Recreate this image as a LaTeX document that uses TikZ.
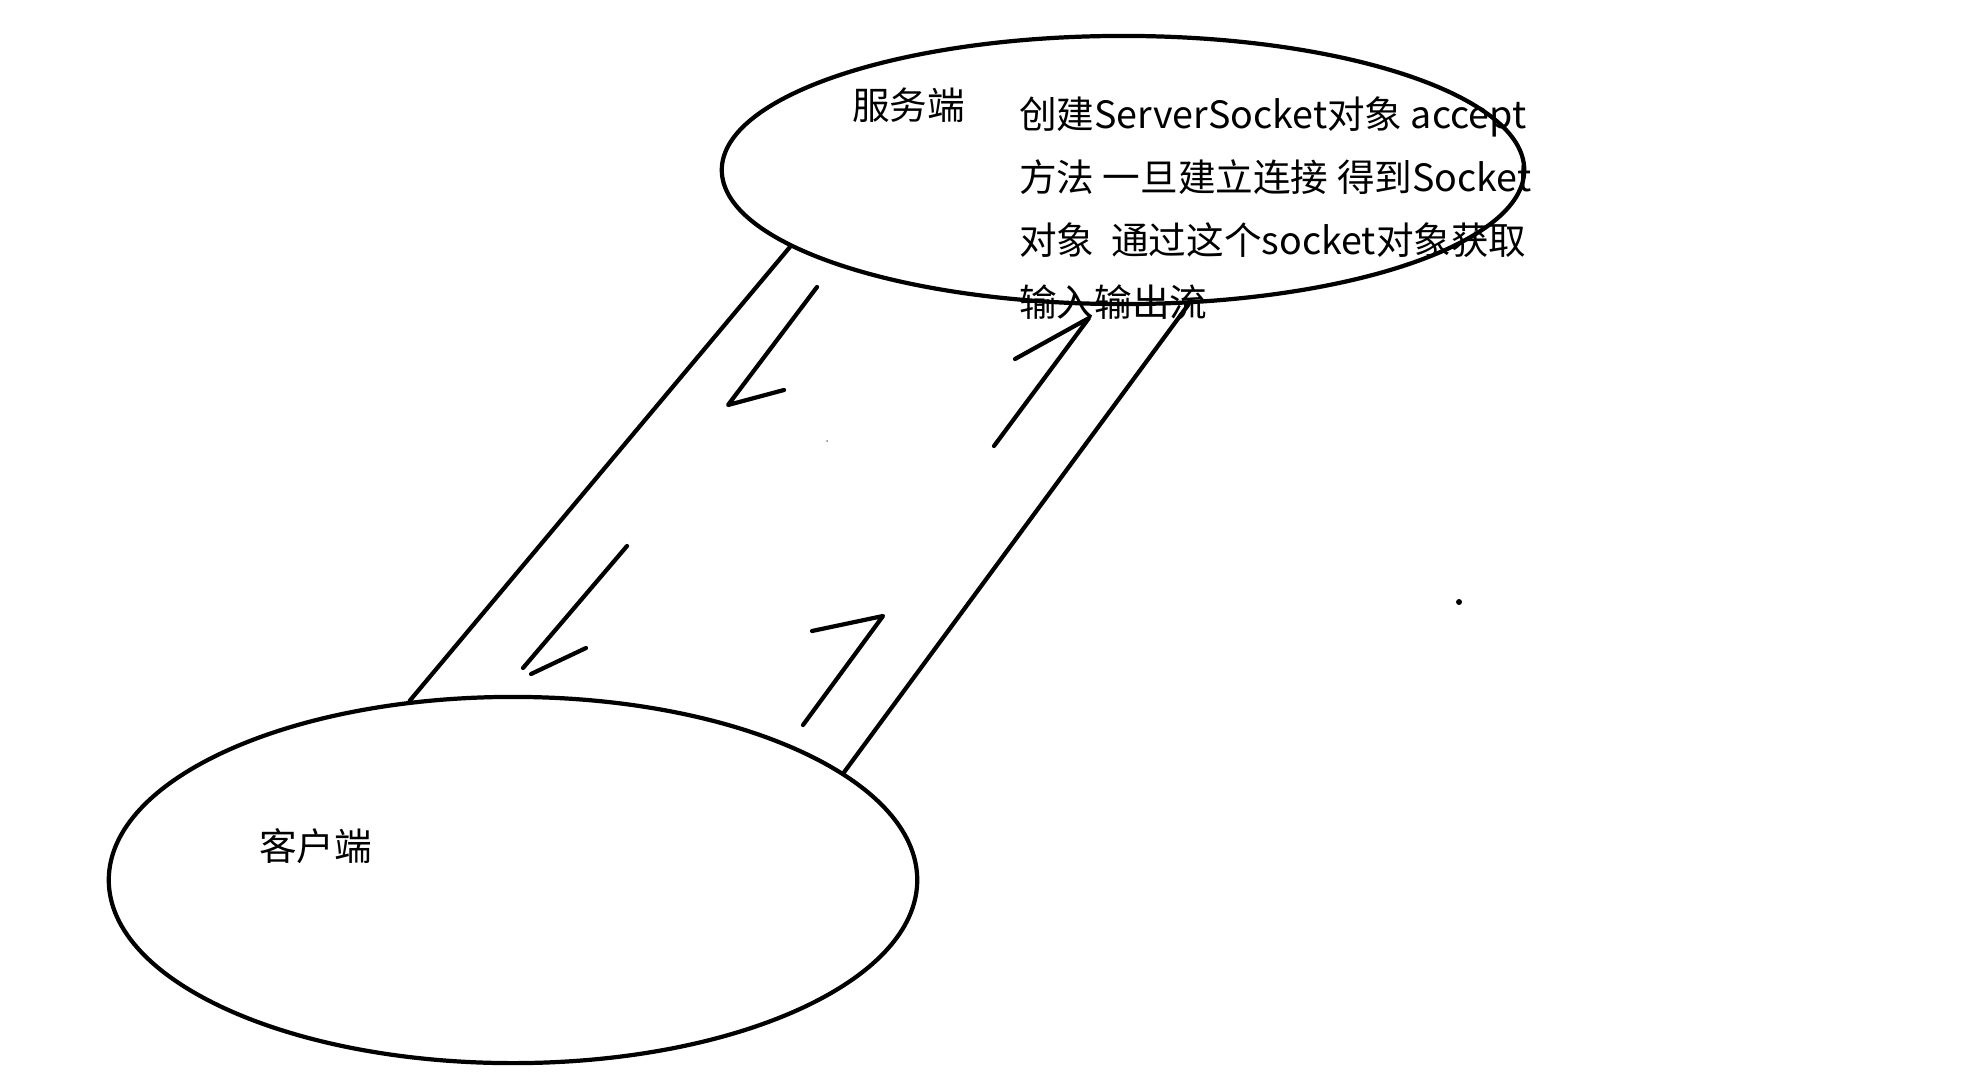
\documentclass[tikz,border=0pt]{standalone}
\usepackage{fontspec}
\newfontfamily\cjk{Noto Sans CJK SC}
\usetikzlibrary{positioning,shapes}

\begin{document}
\begin{tikzpicture}[x=0.01cm,y=-0.01cm,line width=1.2pt,line cap=round,line join=round,
    every node/.style={font=\cjk\fontsize{10.7pt}{17.6pt}\selectfont,inner sep=0pt},
    host/.style={draw,ellipse,minimum width=8.02cm,minimum height=2.68cm},
    tag/.style={anchor=base west}]

    \useasboundingbox (0,0) rectangle (1977,1088);

    \node[host] (SERVER) at (1123,170) {};
    \node[host,minimum width=8.08cm,minimum height=3.66cm] (CLIENT) at (513,880) {};

    \node[tag] (SERVERNAME) at (850,120) {服务端};
    \node[tag] (CLIENTNAME) at (257,860) {客户端};

    \node[tag] (LINE1) at (1017,129) {创建ServerSocket对象 accept};
    \node[tag] (LINE2) at (1017,192) {方法 一旦建立连接 得到Socket};
    \node[tag] (LINE3) at (1017,254) {对象\ \ 通过这个socket对象获取};
    \node[tag] (LINE4) at (1017,316) {输入输出流};

    % the two sides of the channel
    \draw (SERVER.193) -- (CLIENT.120);
    \draw (SERVER.296) -- (CLIENT.18);

    % hand drawn arrows
    \draw (817,287) -- (728,405) -- (784,390);
    \draw (1015,359) -- (1089,318) -- (994,446);
    \draw (627,546) -- (523,668);
    \draw (531,674) -- (586,648);
    \draw (812,631) -- (883,616) -- (803,725);

    \fill (1459,602) circle (3);
    \fill[gray] (827,441) circle (1);
\end{tikzpicture}
\end{document}
